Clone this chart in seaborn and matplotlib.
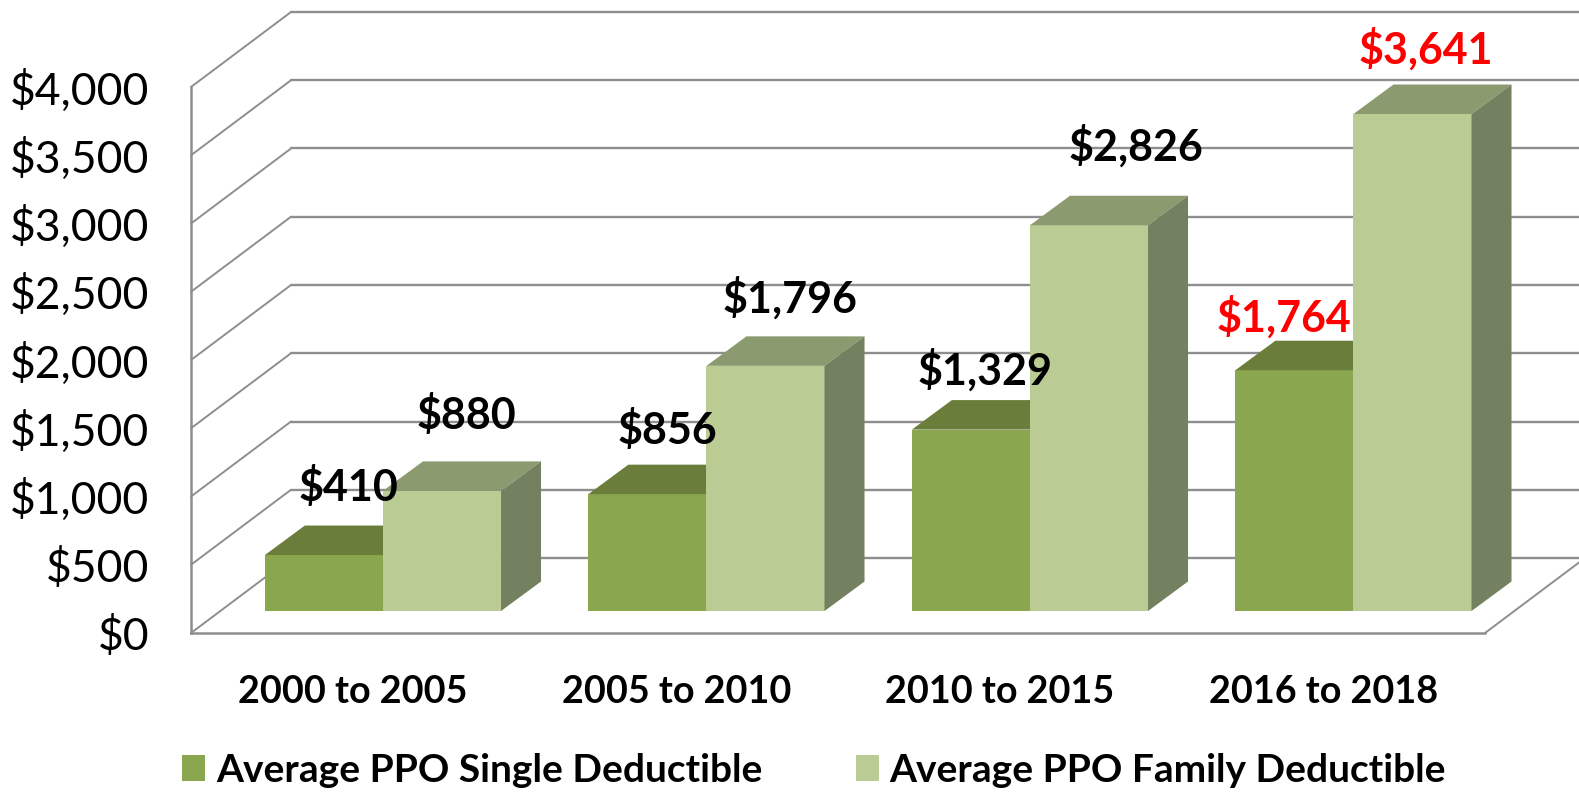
import matplotlib
matplotlib.use("Agg")
import matplotlib.pyplot as plt
from matplotlib.patches import Polygon
from matplotlib.transforms import IdentityTransform, offset_copy
import numpy as np
import pandas as pd
import seaborn as sns

# chart values
periodos = ["2000 to 2005", "2005 to 2010", "2010 to 2015", "2016 to 2018"]
single = [410, 856, 1329, 1764]
family = [880, 1796, 2826, 3641]
nome_single = "Average PPO Single Deductible"
nome_family = "Average PPO Family Deductible"
yticks = [0, 500, 1000, 1500, 2000, 2500, 3000, 3500, 4000]

# hand placed labels, pixels from the top centre of each bar
off_single = [(25, 68), (20, 64), (14, 60), (-11, 53)]
off_family = [(24, 76), (24, 68), (47, 79), (13, 65)]
cor_single = ["black", "black", "black", "red"]
cor_family = ["black", "black", "black", "red"]

# fake 3d depth, pixels
PAREDE = (100, 75)
PROF = (40, 29.5)
RECUO = (30.2, 22)
CINZA = "#8e8e8e"

sns.set_style("white")
plt.rcParams["font.family"] = ["Lato", "DejaVu Sans"]

df = pd.DataFrame({
    "periodo": periodos * 2,
    "valor": single + family,
    "serie": [nome_single] * 4 + [nome_family] * 4,
})

fig = plt.figure(figsize=(15.79, 7.92), dpi=100)
ax = fig.add_axes([191 / 1579, (792 - 633) / 792, 1294 / 1579, 546 / 792])

sns.barplot(data=df, x="periodo", y="valor", hue="serie", ax=ax, width=0.73, gap=0,
            palette=["#8aa74f", "#bacb94"], saturation=1, linewidth=0, zorder=3)
ax.set_xlim(-0.5, 3.5)
ax.set_ylim(0, 4000)
ax.set_xlabel("")
ax.set_ylabel("")
ax.set_yticks(yticks)
ax.set_yticklabels([f"${v:,}" for v in yticks], fontsize=32, color="black")
ax.tick_params(axis="y", length=0, pad=30)
ax.tick_params(axis="x", length=0, pad=30, labelsize=27.2, labelcolor="black")
for t in ax.get_xticklabels():
    t.set_fontweight("bold")

sns.despine(ax=ax, top=True, right=True)
for s in ["left", "bottom"]:
    ax.spines[s].set_color(CINZA)
    ax.spines[s].set_linewidth(1.8)

# back wall and side wall
fundo = offset_copy(ax.transData, fig=fig, x=PAREDE[0], y=PAREDE[1], units="dots")
for v in yticks:
    ax.plot([-0.5, 3.5], [v, v], transform=fundo, color=CINZA, lw=1.7, clip_on=False, zorder=1)
    p = ax.transData.transform((-0.5, v))
    ax.plot([p[0], p[0] + PAREDE[0]], [p[1], p[1] + PAREDE[1]], transform=IdentityTransform(),
            color=CINZA, lw=1.4, clip_on=False, zorder=1)
p = ax.transData.transform((3.5, 0))
ax.plot([p[0], p[0] + PAREDE[0]], [p[1], p[1] + PAREDE[1]], transform=IdentityTransform(),
        color=CINZA, lw=1.4, clip_on=False, zorder=1)

# shift the bars back on the floor, then add top and side faces
recuo = offset_copy(ax.transData, fig=fig, x=RECUO[0], y=RECUO[1], units="dots")
cores_topo = ["#6b7d3b", "#8c9a70"]
cores_lado = ["#748160", "#748160"]
rotulos = [(single, off_single, cor_single), (family, off_family, cor_family)]

for n, barras in enumerate(ax.containers):
    valores, offs, cores = rotulos[n]
    for i, b in enumerate(barras):
        b.set_transform(recuo)
        b.set_clip_on(False)
        b.set_zorder(3 + n)
        x0, x1 = b.get_x(), b.get_x() + b.get_width()
        (a0, c0), (a1, c1) = recuo.transform([(x0, 0), (x1, valores[i])])
        dx, dy = PROF
        ax.add_patch(Polygon([(a0, c1), (a1, c1), (a1 + dx, c1 + dy), (a0 + dx, c1 + dy)],
                             transform=IdentityTransform(), fc=cores_topo[n], lw=0,
                             clip_on=False, zorder=3 + n))
        ax.add_patch(Polygon([(a1, c0), (a1 + dx, c0 + dy), (a1 + dx, c1 + dy), (a1, c1)],
                             transform=IdentityTransform(), fc=cores_lado[n], lw=0,
                             clip_on=False, zorder=3 + n))
        ax.annotate(f"${valores[i]:,}", xy=((a0 + a1) / 2, c1), xycoords=IdentityTransform(),
                    xytext=offs[i], textcoords="offset pixels", ha="center", va="center",
                    fontsize=31, fontweight="bold", color=cores[i], zorder=10,
                    annotation_clip=False)

sns.move_legend(ax, "lower left", bbox_to_anchor=(182 / 1579, 4 / 792), bbox_transform=fig.transFigure,
                ncol=2, frameon=False, title=None, fontsize=28, handlelength=0.6, handleheight=0.65,
                handletextpad=0.27, columnspacing=2.4, borderpad=0, borderaxespad=0)
for t in ax.get_legend().get_texts():
    t.set_fontweight("bold")
    t.set_color("black")

fig.savefig("out.png", dpi=100, facecolor="white")
